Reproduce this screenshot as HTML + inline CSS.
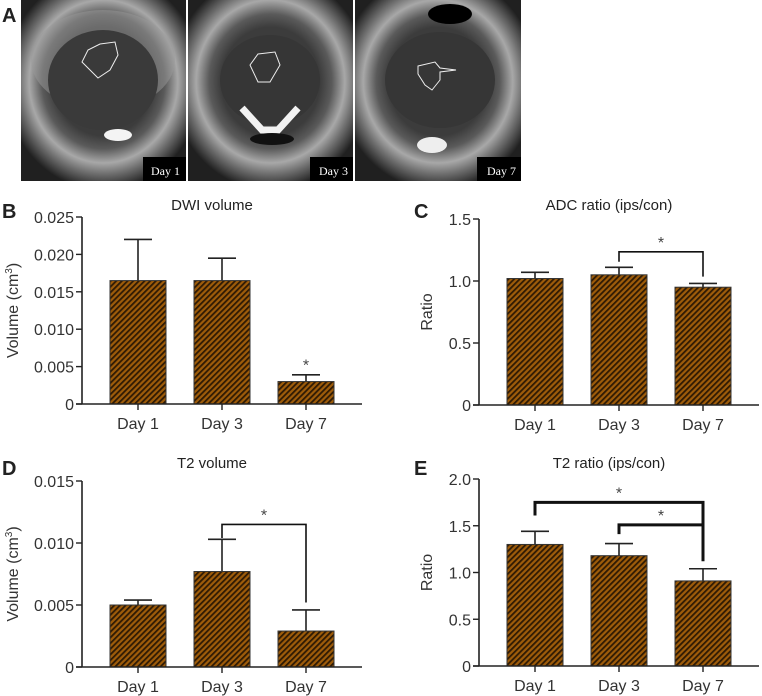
<!DOCTYPE html>
<html><head><meta charset="utf-8">
<style>
html,body{margin:0;padding:0;background:#fff;}
svg{display:block;font-family:"Liberation Sans",Arial,sans-serif;}
</style></head>
<body>
<svg id="fig" width="762" height="696" viewBox="0 0 762 696" xmlns="http://www.w3.org/2000/svg">
<defs>
<pattern id="hatch" patternUnits="userSpaceOnUse" width="4" height="4" patternTransform="rotate(45)">
<rect width="4" height="4" fill="#9e5c0a"/>
<rect x="0" y="0" width="1.8" height="4" fill="#2e1a04"/>
</pattern>
<radialGradient id="mri" cx="50%" cy="45%" r="60%">
<stop offset="0" stop-color="#3a3a3a"/>
<stop offset="0.5" stop-color="#3c3c3c"/>
<stop offset="0.62" stop-color="#5a5a5a"/>
<stop offset="0.75" stop-color="#a8a8a8"/>
<stop offset="0.85" stop-color="#707070"/>
<stop offset="1" stop-color="#202020"/>
</radialGradient>
</defs>

<g>
<text x="2" y="22" font-size="20" font-weight="bold" fill="#222">A</text>
<g>
<rect x="21" y="0" width="165" height="181" fill="url(#mri)"/>
<ellipse cx="103" cy="60" rx="72" ry="50" fill="#9a9a9a" opacity="0.5"/>
<ellipse cx="103" cy="80" rx="55" ry="50" fill="#3a3a3a"/>
<ellipse cx="118" cy="135" rx="14" ry="6" fill="#f4f4f4"/>
<path d="M100 44 L115 42 L118 55 L110 70 L98 78 L90 70 L82 62 L88 50 Z" fill="none" stroke="#eee" stroke-width="1"/>
<rect x="143" y="157" width="43" height="24" fill="#000"/>
<text x="180" y="175" font-size="12" fill="#fff" text-anchor="end" font-family="Liberation Serif,serif">Day 1</text>
</g>
<g>
<rect x="188" y="0" width="165" height="181" fill="url(#mri)"/>
<ellipse cx="270" cy="80" rx="50" ry="45" fill="#363636"/>
<path d="M242 108 L262 130 L278 130 L298 108" stroke="#f2f2f2" stroke-width="7" fill="none"/>
<ellipse cx="272" cy="139" rx="22" ry="6" fill="#111"/>
<path d="M258 54 L275 52 L280 65 L270 82 L258 82 L250 65 Z" fill="none" stroke="#eee" stroke-width="1"/>
<rect x="310" y="157" width="43" height="24" fill="#000"/>
<text x="348" y="175" font-size="12" fill="#fff" text-anchor="end" font-family="Liberation Serif,serif">Day 3</text>
</g>
<g>
<rect x="355" y="0" width="166" height="181" fill="url(#mri)"/>
<ellipse cx="440" cy="80" rx="55" ry="48" fill="#363636"/>
<ellipse cx="432" cy="145" rx="15" ry="8" fill="#eeeeee"/>
<ellipse cx="450" cy="14" rx="22" ry="10" fill="#000"/>
<path d="M418 66 L435 62 L440 68 L456 70 L440 72 L440 80 L432 90 L425 85 L418 74 Z" fill="none" stroke="#eee" stroke-width="1"/>
<rect x="477" y="157" width="44" height="24" fill="#000"/>
<text x="516" y="175" font-size="12" fill="#fff" text-anchor="end" font-family="Liberation Serif,serif">Day 7</text>
</g>
</g>
<g id="charts"></g>
</svg>
<script>
const categories = ["Day 1", "Day 3", "Day 7"];
const dwiVolume = [0.0165, 0.0165, 0.0030];
const dwiVolumeErr = [0.0055, 0.0030, 0.0009];
const dwiTicks = ["0", "0.005", "0.010", "0.015", "0.020", "0.025"];
const adcRatio = [1.02, 1.05, 0.95];
const adcRatioErr = [0.05, 0.06, 0.03];
const adcTicks = ["0", "0.5", "1.0", "1.5"];
const t2Volume = [0.0050, 0.0077, 0.0029];
const t2VolumeErr = [0.0004, 0.0026, 0.0017];
const t2VolTicks = ["0", "0.005", "0.010", "0.015"];
const t2Ratio = [1.30, 1.18, 0.91];
const t2RatioErr = [0.14, 0.13, 0.13];
const t2RatioTicks = ["0", "0.5", "1.0", "1.5", "2.0"];

const NS = "http://www.w3.org/2000/svg";
const root = document.getElementById("charts");
function mk(tag, attrs, parent) {
  const e = document.createElementNS(NS, tag);
  for (const k in attrs) e.setAttribute(k, attrs[k]);
  parent.appendChild(e);
  return e;
}

function drawChart(cfg) {
  const g = mk("g", {}, root);
  
  
  const ax = cfg.ax, y0 = cfg.y0, yTop = cfg.yTop;
  const maxV = parseFloat(cfg.ticks[cfg.ticks.length - 1]);
  const ys = v => y0 - (v / maxV) * (y0 - yTop);
  const bx = i => ax + 28 + i * 84;
  const bw = 56;
  const pl = mk("text", {x: cfg.lx, y: cfg.ly, "font-size": 20, "font-weight": "bold", fill: "#222"}, g);
  pl.textContent = cfg.letter;
  
  
  const t = mk("text", {x: ax + 130, y: cfg.ty, "font-size": 15, fill: "#222", "text-anchor": "middle"}, g);
  t.textContent = cfg.title;
  
  
  const yt = mk("text", {x: 0, y: 0, "font-size": 16, fill: "#333", "text-anchor": "middle", transform: `translate(${ax - cfg.yto},${(y0 + yTop) / 2}) rotate(-90)`}, g);
  
  
  if (cfg.ytitleSup) {
    yt.textContent = "Volume (cm";
    const s = mk("tspan", {"font-size": 10, dy: -6}, yt); s.textContent = "3";
    const s2 = mk("tspan", {dy: 6}, yt); s2.textContent = ")";
  } else yt.textContent = cfg.ytitle;
  cfg.vals.forEach((v, i) => {
    const x = bx(i), yv = ys(v), ye = ys(v + cfg.errs[i]);
    const eb = mk("line", {x1: x + bw / 2, x2: x + bw / 2, y1: yv, y2: ye, stroke: "#222", "stroke-width": 1.6}, g);
    
    
    const cap = mk("line", {x1: x + bw / 2 - 14, x2: x + bw / 2 + 14, y1: ye, y2: ye, stroke: "#222", "stroke-width": 1.6}, g);
    
    
    const r = mk("rect", {x: x, y: yv, width: bw, height: y0 - yv, fill: "url(#hatch)", stroke: "#333", "stroke-width": 1}, g);
    
    
    const tk = mk("line", {x1: x + bw / 2, x2: x + bw / 2, y1: y0, y2: y0 + 6, stroke: "#222", "stroke-width": 1.4}, g);
    
    
    const lb = mk("text", {x: x + bw / 2, y: y0 + 25, "font-size": 16, fill: "#333", "text-anchor": "middle"}, g);
    lb.textContent = categories[i];
    
    
  });
  const yaxis = mk("line", {x1: ax, x2: ax, y1: yTop, y2: y0, stroke: "#222", "stroke-width": 1.6}, g);
  
  
  const xaxis = mk("line", {x1: ax - 6, x2: ax + 280, y1: y0, y2: y0, stroke: "#222", "stroke-width": 1.6}, g);
  
  
  cfg.ticks.forEach(tl => {
    const y = ys(parseFloat(tl));
    const tk = mk("line", {x1: ax - 6, x2: ax, y1: y, y2: y, stroke: "#222", "stroke-width": 1.4}, g);
    
    
    const tx = mk("text", {x: ax - 8, y: y + 6, "font-size": 16, fill: "#333", "text-anchor": "end"}, g);
    tx.textContent = tl;
    
    
  });
  (cfg.brackets || []).forEach(b => {
    const xa = bx(b.a) + bw / 2, xb = bx(b.b) + bw / 2;
    const yb = ys(b.y);
    const p = mk("path", {d: `M${xa} ${ys(b.yl)} L${xa} ${yb} L${xb} ${yb} L${xb} ${ys(b.yr)}`, fill: "none", stroke: "#111", "stroke-width": b.w}, g);
    
    
    const s = mk("text", {x: (xa + xb) / 2, y: yb - 4, "font-size": 16, fill: "#444", "text-anchor": "middle"}, g);
    s.textContent = "*";
    
    
  });
  (cfg.stars || []).forEach(st => {
    const s = mk("text", {x: bx(st.i) + bw / 2, y: ys(st.v), "font-size": 16, fill: "#444", "text-anchor": "middle"}, g);
    s.textContent = "*";
    
    
  });
}

drawChart({name: "dwi-volume-chart", letter: "B", lx: 2, ly: 218, title: "DWI volume", ty: 210, ax: 82, y0: 404, yTop: 217, yto: 64,
  vals: dwiVolume, errs: dwiVolumeErr, ticks: dwiTicks, ytitleSup: true,
  stars: [{i: 2, v: 0.0045}]});
drawChart({name: "adc-ratio-chart", letter: "C", lx: 414, ly: 218, title: "ADC ratio (ips/con)", ty: 210, ax: 479, y0: 405, yTop: 219, yto: 47,
  vals: adcRatio, errs: adcRatioErr, ticks: adcTicks, ytitle: "Ratio",
  brackets: [{a: 1, b: 2, y: 1.235, yl: 1.155, yr: 1.035, w: 1.6}]});
drawChart({name: "t2-volume-chart", letter: "D", lx: 2, ly: 475, title: "T2 volume", ty: 468, ax: 82, y0: 667, yTop: 481, yto: 64,
  vals: t2Volume, errs: t2VolumeErr, ticks: t2VolTicks, ytitleSup: true,
  brackets: [{a: 1, b: 2, y: 0.0115, yl: 0.0104, yr: 0.0052, w: 1.6}]});
drawChart({name: "t2-ratio-chart", letter: "E", lx: 414, ly: 475, title: "T2 ratio (ips/con)", ty: 468, ax: 479, y0: 666, yTop: 479, yto: 47,
  vals: t2Ratio, errs: t2RatioErr, ticks: t2RatioTicks, ytitle: "Ratio",
  brackets: [{a: 0, b: 2, y: 1.75, yl: 1.61, yr: 1.12, w: 3}, {a: 1, b: 2, y: 1.51, yl: 1.41, yr: 1.51, w: 3}]});
</script>
</body></html>
